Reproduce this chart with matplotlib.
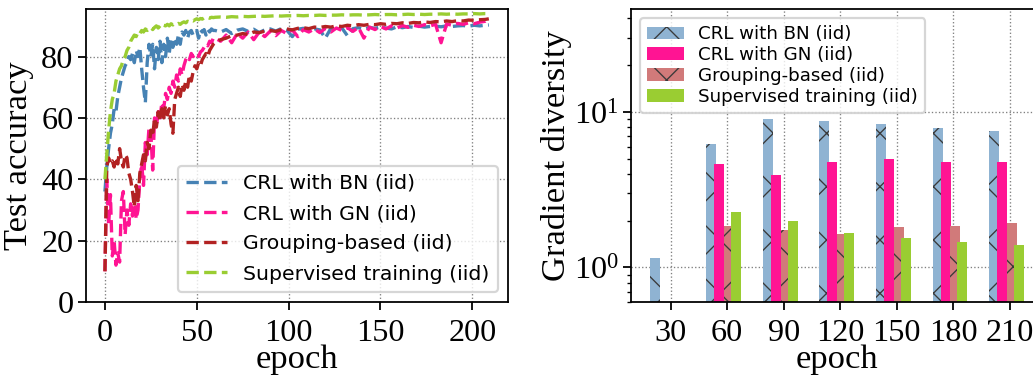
import numpy as np
import matplotlib
matplotlib.use("Agg")
import matplotlib.pyplot as plt

plt.rcParams['font.family'] = 'Liberation Serif'
plt.rcParams['mathtext.fontset'] = 'stix'
plt.rcParams['hatch.linewidth'] = 0.6

# ---- test accuracy curves ----
epochs = list(range(60)) + list(range(60, 208, 3)) + [209]

acc_bn = [36, 44, 50, 55, 58, 63, 62, 67, 70, 73,
          75, 77, 78, 80, 79, 81, 78, 82, 80, 83,
          76, 70, 65, 78, 84, 80, 84, 76, 83, 79,
          85, 78, 84, 80, 86, 81, 86, 83, 86, 84,
          87, 84, 88, 87, 88.5, 86, 88, 88.5, 87, 88,
          88.5, 86, 88.7, 88, 88.8, 87, 88.8, 88, 89, 88.5,
          88.5, 88.0, 88.8, 87.5, 88.6, 89.0, 88.2, 88.9, 87.8, 88.7,
          89.0, 88.3, 89.1, 88.6, 86.5, 88.9, 89.2, 88.4, 89.0, 88.7,
          86.0, 89.2, 88.8, 89.3, 86.8, 89.1, 89.4, 88.9, 89.5, 89.2,
          89.6, 89.3, 89.0, 89.7, 89.4, 89.8, 89.5, 89.9, 89.6, 89.8,
          89.9, 89.7, 90.0, 89.8, 90.0, 90.1, 89.9, 90.2, 90.0, 90.2,
          90.3]

acc_gn = [10, 40, 25, 35, 15, 20, 12, 16, 13, 33,
          36, 22, 30, 25, 32, 28, 35, 27, 30, 40,
          45, 38, 52, 48, 57, 55, 43, 60, 57, 62,
          60, 65, 63, 68, 66, 70, 68, 72, 70, 74,
          72, 76, 74, 77, 79, 80, 79, 81, 80, 80.5,
          81, 80, 81.5, 82, 83, 84, 83.5, 85, 84.5, 86,
          86.0, 85.0, 87.0, 84.5, 87.5, 86.0, 88.0, 85.5, 88.0, 86.5,
          88.3, 86.8, 88.5, 87.5, 88.7, 86.5, 88.8, 88.0, 89.0, 87.8,
          89.2, 88.0, 89.3, 88.5, 89.4, 88.2, 89.5, 86.0, 89.6, 88.8,
          89.8, 89.0, 90.0, 89.3, 90.1, 89.5, 90.2, 89.8, 90.4, 90.0,
          90.5, 84.5, 90.6, 90.2, 90.8, 90.5, 91.0, 90.7, 91.2, 91.5,
          92.5]

acc_grp = [10, 44, 47, 45, 46, 44, 47, 45, 50, 46,
           44, 48, 47, 42, 40, 36, 31, 38, 33, 42,
           45, 48, 46, 52, 50, 56, 54, 60, 57, 62,
           59, 63, 60, 64, 61, 63, 58, 55, 66, 68,
           70, 67, 71, 69, 72, 70, 74, 72, 75, 77,
           76, 78, 77, 79, 80, 81, 80, 82, 83, 84,
           84.5, 85.5, 86.0, 86.8, 87.0, 87.5, 87.2, 88.0, 87.8, 88.3,
           88.5, 88.2, 88.8, 89.0, 88.7, 89.2, 89.4, 89.1, 89.6, 89.5,
           89.8, 89.6, 90.0, 89.8, 90.2, 90.0, 90.4, 90.2, 90.5, 90.4,
           90.7, 90.5, 90.8, 90.7, 91.0, 90.8, 91.1, 91.0, 91.3, 91.1,
           91.4, 91.3, 91.6, 91.4, 91.7, 91.6, 91.9, 91.8, 92.0, 92.1,
           92.3]

acc_sup = [40, 48, 56, 62, 66, 68, 72, 74, 76, 77,
           79, 80, 82, 83, 85, 86, 87, 86.5, 88, 87.5,
           88.5, 88, 89, 88.5, 89, 89.5, 88.8, 89.5, 90, 89.3,
           90, 89.5, 90.2, 90, 90.5, 90, 90.7, 90.3, 90.8, 90.5,
           90.8, 90.5, 91, 91.3, 91, 91.5, 91.3, 91.8, 91.6, 92,
           92.3, 92, 92.4, 92.2, 92.6, 92.4, 92.7, 92.5, 92.8, 92.7,
           92.8, 92.9, 92.8, 93.0, 92.9, 93.1, 93.0, 93.1, 93.2, 93.1,
           93.2, 93.3, 93.2, 93.3, 93.3, 93.4, 93.3, 93.4, 93.4, 93.5,
           93.4, 93.5, 93.5, 93.6, 93.5, 93.6, 93.6, 93.5, 93.6, 93.7,
           93.6, 93.7, 93.7, 93.6, 93.7, 93.8, 93.7, 93.8, 93.7, 93.8,
           93.8, 93.9, 93.8, 93.9, 93.8, 93.9, 93.9, 94.0, 93.9, 94.0,
           94.0]

# ---- gradient diversity bars ----
bar_epochs = [30, 60, 90, 120, 150, 180, 210]
div_bn = [1.15, 6.25, 9.05, 8.8, 8.4, 7.9, 7.6]
div_gn = [None, 4.65, 3.95, 4.8, 5.0, 4.8, 4.8]
div_grp = [None, 1.85, 1.75, 1.65, 1.83, 1.85, 1.94]
div_sup = [None, 2.28, 2.0, 1.67, 1.55, 1.46, 1.40]

labels = ["CRL with BN (iid)", "CRL with GN (iid)",
          "Grouping-based (iid)", "Supervised training (iid)"]

fig = plt.figure(figsize=(1033 / 160, 375 / 160), dpi=160)
ax1 = fig.add_axes([0.083, 0.1947, 0.4088, 0.7813])
ax2 = fig.add_axes([0.6108, 0.1947, 0.3985, 0.7813])

# left plot
for vals, c, lab in zip([acc_bn, acc_gn, acc_grp, acc_sup],
                        ['steelblue', 'deeppink', 'firebrick', 'yellowgreen'],
                        labels):
    ax1.plot(epochs, vals, '--', color=c, lw=1.5, label=lab)
ax1.set_ylim(0, 95.5)
ax1.set_xlim(-10.45, 219.45)
ax1.set_xticks([0, 50, 100, 150, 200])
ax1.set_yticks([0, 20, 40, 60, 80])
ax1.grid(True, linestyle=':', color='gray', linewidth=0.6)
ax1.set_xlabel("epoch", fontsize=15.5, labelpad=-1.5)
ax1.set_ylabel("Test accuracy", fontsize=15.5, labelpad=3)
ax1.tick_params(labelsize=14.5)
ax1.tick_params(axis='x', pad=4)
ax1.tick_params(axis='y', pad=2)
ax1.legend(loc='lower right', prop={'family': 'DejaVu Sans', 'size': 9.2},
           labelspacing=0.55)

# right plot
x = np.array(bar_epochs, dtype=float)
w = 5.3
ax2.bar(x - 11.05, np.array(div_bn, dtype=float), w, align='edge',
        color='#8fb3d2', edgecolor='#3a3a3a', linewidth=0, hatch='x', label=labels[0])
ax2.bar(x - 6.8, np.array(div_gn, dtype=float), w, align='edge',
        color='deeppink', linewidth=0, label=labels[1])
ax2.bar(x - 1.6, np.array(div_grp, dtype=float), w, align='edge',
        color='#d17a7a', edgecolor='#3a3a3a', linewidth=0, hatch='x', label=labels[2])
ax2.bar(x + 2.1, np.array(div_sup, dtype=float), w, align='edge',
        color='yellowgreen', linewidth=0, label=labels[3])
ax2.set_yscale('log')
ax2.set_ylim(0.6, 46)
ax2.set_xlim(9.0, 227.3)
ax2.set_xticks(bar_epochs)
ax2.set_axisbelow(True)
ax2.grid(True, linestyle=':', color='gray', linewidth=0.6)
ax2.set_xlabel("epoch", fontsize=15.5, labelpad=-1.5)
ax2.set_ylabel("Gradient diversity", fontsize=15.5, labelpad=1)
ax2.tick_params(labelsize=14.5)
ax2.tick_params(axis='x', pad=4)
ax2.tick_params(axis='y', pad=2)
ax2.legend(loc='upper left', prop={'family': 'DejaVu Sans', 'size': 8.2},
           labelspacing=0.15)

fig.savefig("out.png", dpi=160)
